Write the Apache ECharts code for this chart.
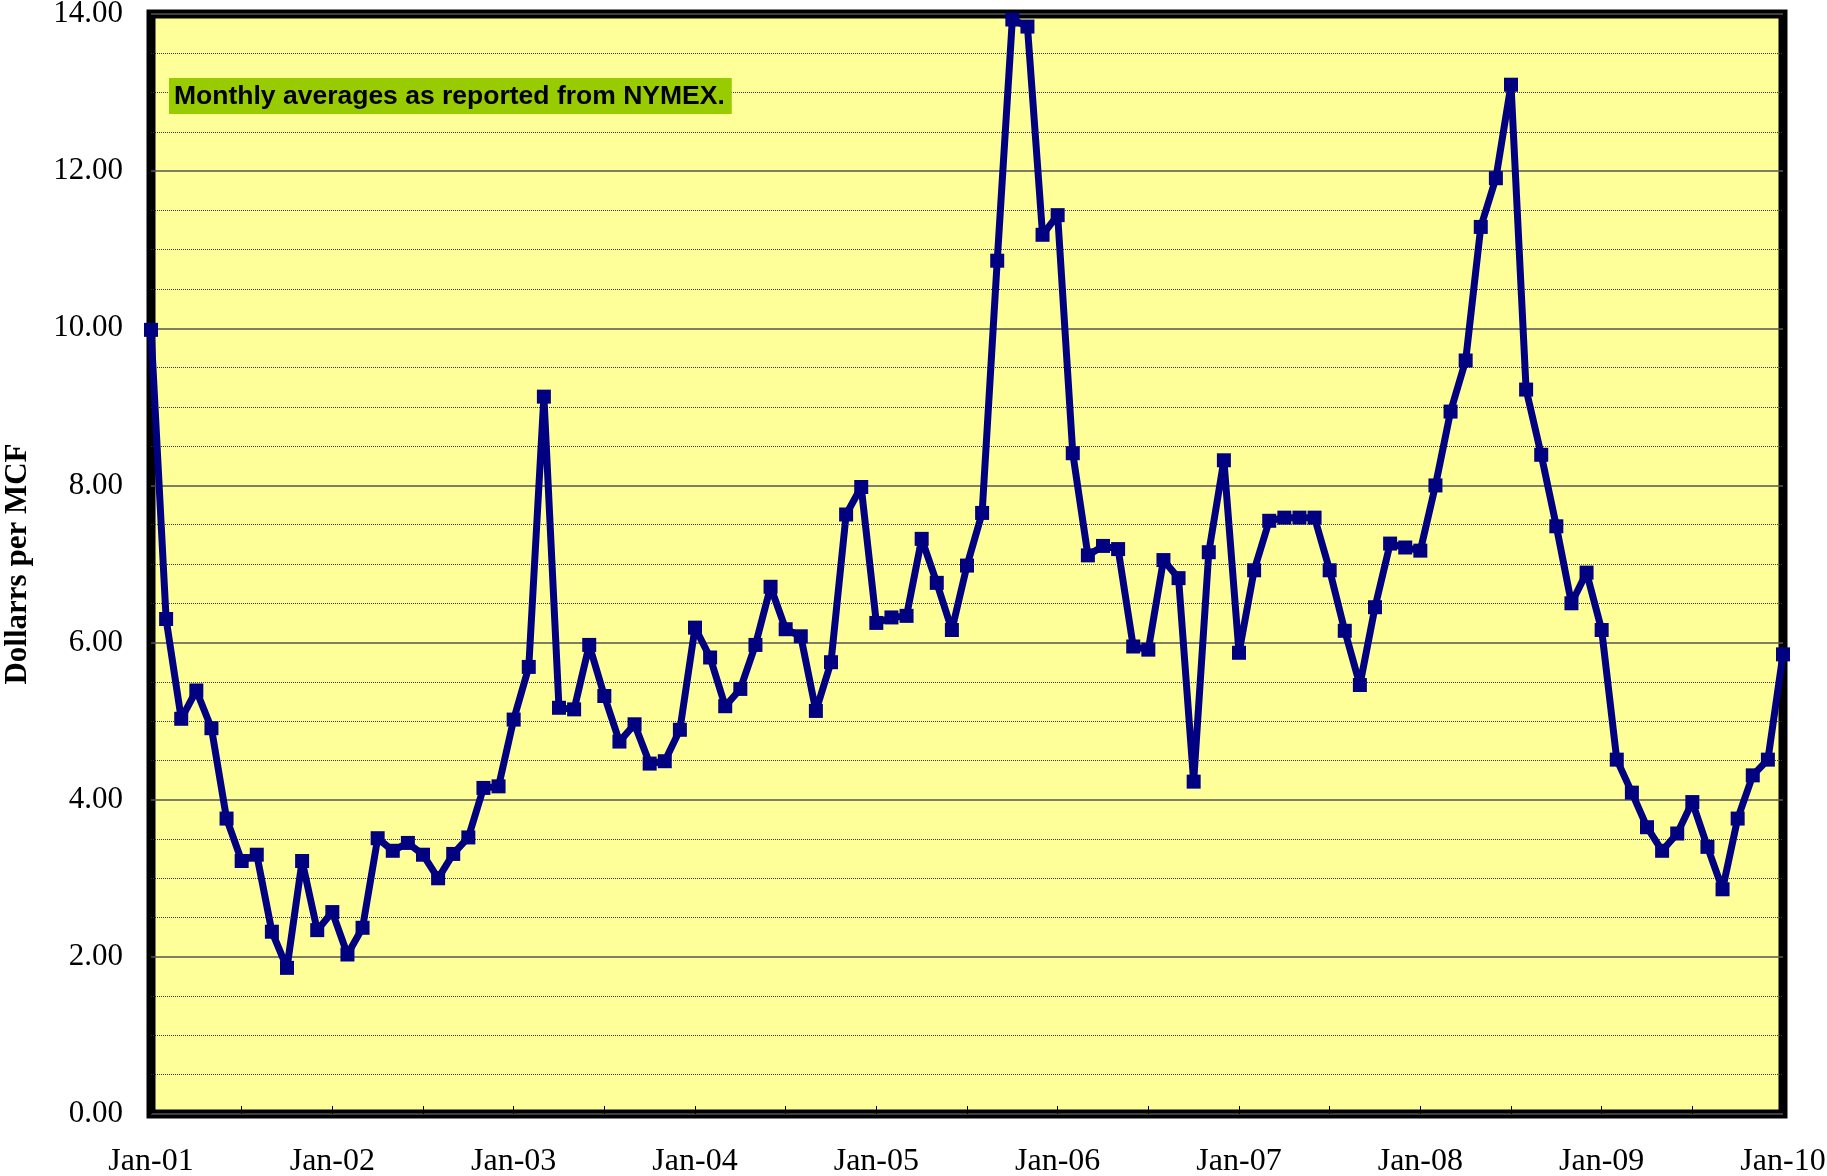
<!DOCTYPE html>
<html>
<head>
<meta charset="utf-8">
<title>Natural gas monthly averages</title>
<script src="https://cdn.jsdelivr.net/npm/echarts@6/dist/echarts.min.js"></script>
<style>
  html, body { margin: 0; padding: 0; background: #fff; }
  #chart { width: 1827px; height: 1176px; }
</style>
</head>
<body>
<div id="chart"></div>
<script>
// month labels Jan-01 .. Jan-10
const monthNames = ['Jan', 'Feb', 'Mar', 'Apr', 'May', 'Jun', 'Jul', 'Aug', 'Sep', 'Oct', 'Nov', 'Dec'];
const years = ['01', '02', '03', '04', '05', '06', '07', '08', '09', '10'];
const categories = [];
years.forEach(function (yy, i) {
  monthNames.forEach(function (m, j) {
    if (i < years.length - 1 || j === 0) categories.push(m + '-' + yy);
  });
});

// NYMEX monthly averages, dollars per MCF
const prices = [
  9.98, 6.30, 5.03, 5.39, 4.91, 3.76, 3.22, 3.30, 2.32, 1.86, 3.22, 2.34,
  2.57, 2.03, 2.37, 3.51, 3.35, 3.45, 3.30, 3.00, 3.31, 3.52, 4.15, 4.17,
  5.02, 5.69, 9.13, 5.17, 5.15, 5.97, 5.32, 4.74, 4.96, 4.46, 4.49, 4.89,
  6.19, 5.81, 5.19, 5.41, 5.97, 6.71, 6.17, 6.08, 5.13, 5.75, 7.63, 7.98,
  6.25, 6.32, 6.34, 7.32, 6.76, 6.16, 6.98, 7.65, 10.86, 13.93, 13.84, 11.19,
  11.44, 8.41, 7.11, 7.23, 7.19, 5.95, 5.91, 7.05, 6.82, 4.23, 7.15, 8.32,
  5.87, 6.92, 7.55, 7.59, 7.59, 7.59, 6.92, 6.15, 5.46, 6.45, 7.26, 7.21,
  7.17, 8.00, 8.94, 9.59, 11.29, 11.91, 13.10, 9.22, 8.39, 7.48, 6.50, 6.89,
  6.16, 4.51, 4.09, 3.65, 3.35, 3.57, 3.97, 3.40, 2.86, 3.76, 4.31, 4.51,
  5.85
];

const yMin = 0;
const yMax = 14;
const yStep = 2;

const serif = "'Liberation Serif', 'Times New Roman', serif";

const myChart = echarts.init(document.getElementById('chart'));

const option = {
  animation: false,
  backgroundColor: '#ffffff',
  title: {
    text: 'Monthly averages as reported from NYMEX.',
    left: 169,
    top: 78,
    backgroundColor: '#99CC00',
    padding: [5, 7, 4, 5],
    textStyle: {
      color: '#000',
      fontFamily: "'Liberation Sans', Arial, sans-serif",
      fontWeight: 'bold',
      fontSize: 26.5
    }
  },
  grid: {
    left: 151,
    right: 44,
    top: 14,
    bottom: 62,
    outerBoundsMode: 'none',
    show: true,
    backgroundColor: '#FFFF99',
    borderColor: '#000',
    borderWidth: 9
  },
  xAxis: {
    type: 'category',
    data: categories,
    boundaryGap: false,
    axisLine: { show: false },
    axisTick: {
      show: true,
      inside: true,
      length: 8,
      interval: function (index) { return index % 6 === 0; },
      lineStyle: { color: '#000', width: 1 }
    },
    axisLabel: {
      interval: function (index) { return index % 12 === 0; },
      margin: 32,
      color: '#000',
      fontFamily: serif,
      fontSize: 32
    },
    splitLine: { show: false }
  },
  yAxis: {
    type: 'value',
    min: yMin,
    max: yMax,
    interval: yStep,
    name: 'Dollarrs per MCF',
    nameLocation: 'middle',
    nameRotate: 90,
    nameGap: 118,
    nameTextStyle: {
      color: '#000',
      fontFamily: serif,
      fontWeight: 'bold',
      fontSize: 31
    },
    axisLine: { show: false },
    axisTick: { show: false },
    axisLabel: {
      margin: 28,
      color: '#000',
      fontFamily: serif,
      fontSize: 31,
      formatter: function (v) { return v.toFixed(2); }
    },
    splitLine: {
      lineStyle: { color: '#555', width: 1.5, type: 'solid' }
    },
    minorTick: { show: false, splitNumber: 4 },
    minorSplitLine: {
      show: true,
      lineStyle: { color: '#333', width: 1, type: 'dotted' }
    }
  },
  series: [
    {
      name: 'NYMEX',
      type: 'line',
      data: prices,
      symbol: 'rect',
      symbolSize: 14,
      showAllSymbol: true,
      clip: false,
      lineStyle: { color: '#000080', width: 7 },
      itemStyle: { color: '#000080' }
    }
  ]
};

myChart.setOption(option);

window.addEventListener('resize', function () {
  myChart.resize();
});
</script>
</body>
</html>
